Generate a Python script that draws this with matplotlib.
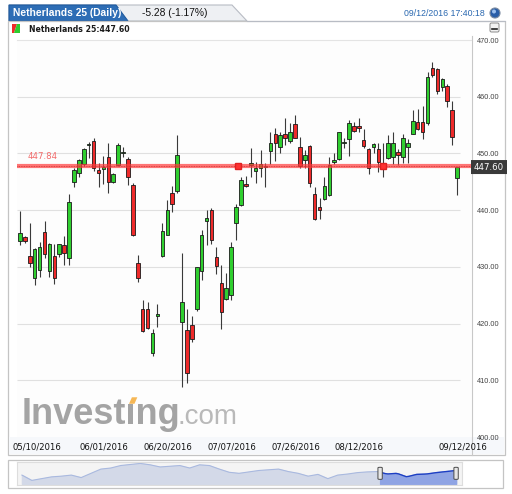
import matplotlib
matplotlib.use('Agg')
import numpy as np
import pandas as pd
import matplotlib.pyplot as plt
from matplotlib.patches import Polygon, Rectangle, FancyBboxPatch, Circle

# daily candles, Netherlands 25, 05/10/2016 .. 09/12/2016
opens = [434.6, 435.2, 431.9, 428.1, 429.5, 436.2, 429.3, 432.0, 432.2, 433.8,
         431.5, 445.0, 446.5, 448.1, 451.5, 452.2, 447.1, 447.3, 449.3, 445.0,
         447.9, 450.0, 449.1, 444.5, 430.6, 422.5, 422.5, 414.8, 421.4, 431.9,
         435.7, 443.1, 443.4, 420.3, 418.9, 419.8, 422.5, 429.3, 438.1, 440.0,
         431.8, 427.2, 424.4, 425.1, 437.7, 440.9, 444.6, 448.0, 446.9, 447.5,
         447.6, 450.4, 453.5, 451.1, 453.4, 452.2, 455.2, 451.1, 448.9, 451.3,
         442.9, 440.5, 441.9, 442.7, 448.5, 449.0, 451.8, 452.5, 454.9, 454.8,
         452.3, 450.8, 451.1, 450.8, 447.8, 449.2, 449.4, 450.3, 449.4, 451.2,
         453.5, 455.5, 455.6, 455.3, 465.0, 464.9, 461.8, 461.9, 457.6, 445.6]
highs = [439.8, 435.5, 437.7, 433.4, 434.4, 438.1, 434.2, 434.0, 434.1, 435.4,
         442.8, 447.5, 449.1, 450.9, 452.0, 452.8, 448.4, 449.5, 451.9, 446.5,
         451.9, 451.1, 449.3, 444.7, 432.1, 424.1, 423.8, 419.1, 423.5, 437.7,
         441.8, 444.2, 453.2, 432.4, 422.5, 421.3, 430.0, 436.5, 440.1, 440.3,
         433.5, 430.3, 428.9, 434.4, 441.1, 445.8, 446.0, 450.9, 448.5, 450.6,
         448.4, 453.7, 454.4, 453.8, 456.2, 455.3, 456.8, 452.9, 450.6, 451.5,
         444.0, 442.2, 445.8, 449.3, 450.1, 453.8, 452.8, 455.9, 455.5, 456.3,
         454.3, 450.9, 451.8, 451.8, 451.8, 453.2, 453.8, 450.8, 453.5, 452.6,
         457.6, 457.8, 458.4, 464.3, 466.2, 465.0, 463.3, 462.3, 459.2, 447.5]
lows = [433.8, 434.2, 430.0, 426.8, 428.2, 431.5, 428.2, 426.9, 431.8, 430.3,
        430.3, 444.0, 445.9, 447.8, 449.2, 446.9, 444.1, 444.6, 443.1, 444.8,
        447.7, 449.4, 444.4, 435.4, 427.4, 418.5, 419.1, 414.2, 419.4, 431.7,
        435.6, 439.7, 443.0, 408.8, 409.5, 416.8, 422.3, 427.7, 433.8, 434.1,
        428.7, 419.1, 424.1, 424.1, 434.8, 440.7, 444.0, 445.9, 444.8, 445.9,
        444.1, 448.2, 448.7, 450.0, 451.5, 451.8, 452.7, 447.4, 447.4, 444.0,
        438.2, 438.4, 441.8, 442.5, 448.2, 448.8, 451.0, 449.6, 453.7, 453.7,
        451.0, 446.3, 450.0, 446.8, 445.9, 449.1, 448.2, 448.0, 448.4, 448.4,
        453.4, 454.1, 452.6, 455.1, 463.5, 460.4, 461.0, 458.2, 451.5, 442.6]
closes = [436.0, 434.5, 430.6, 433.2, 433.5, 432.2, 434.1, 428.1, 434.0, 432.4,
          441.5, 447.0, 448.9, 450.7, 451.7, 447.4, 446.6, 447.5, 445.0, 446.3,
          451.5, 450.1, 445.9, 435.6, 428.0, 418.7, 419.3, 418.3, 421.6, 436.3,
          440.1, 441.1, 449.7, 423.8, 411.3, 417.2, 429.9, 435.6, 438.7, 434.8,
          430.2, 422.0, 426.2, 433.5, 440.6, 445.3, 444.3, 448.2, 447.4, 448.1,
          447.8, 451.9, 451.9, 453.2, 452.8, 453.8, 452.8, 447.7, 449.7, 444.8,
          438.4, 440.1, 444.2, 447.9, 448.9, 453.7, 452.0, 455.3, 453.9, 454.4,
          451.3, 447.4, 451.6, 448.5, 447.9, 451.9, 451.9, 449.7, 452.8, 451.9,
          455.7, 454.3, 453.7, 463.5, 463.9, 461.0, 463.1, 459.3, 452.88, 447.60]

dates = pd.bdate_range('2016-05-10', '2016-09-12')
tick_dates = ['05/10/2016', '06/01/2016', '06/20/2016', '07/07/2016',
              '07/26/2016', '08/12/2016', '09/12/2016']
price_ticks = [400, 410, 420, 430, 440, 450, 460, 470]
hline_level = 447.84
hline_marks = [44.4, 74.0]

# navigator (long history, relative levels)
nav_values = [25, 10, 15, 20, 22, 25, 18, 30, 42, 45, 52, 55, 58, 54, 48,
              50, 52, 45, 54, 52, 42, 33, 30, 34, 38, 40, 42, 35, 30, 22,
              27, 15, 25, 28, 32, 34, 35, 28, 30, 20, 27, 28, 32, 35, 38]
nav_sel = (36.3, 44)

W, H = 512, 494
fig = plt.figure(figsize=(W / 100, H / 100), dpi=100)
fig.patch.set_facecolor('white')

# pixel canvas for the chrome
bg = fig.add_axes([0, 0, 1, 1])
bg.set_xlim(0, W)
bg.set_ylim(H, 0)
bg.axis('off')

# tabs
bg.add_patch(Polygon([(9, 5), (232, 5), (247, 21), (9, 21)], closed=True,
                     fc='#eef0f3', ec='#b8bcc4', lw=0.8))
bg.add_patch(Polygon([(9, 5), (116, 5), (128, 21), (9, 21)], closed=True,
                     fc='#2d6db5', ec='#1f5a9e', lw=0.8))
bg.text(13, 13.5, 'Netherlands 25 (Daily)', color='white', fontsize=7.4,
        fontweight='bold', family='Liberation Sans', va='center')
bg.text(142, 13.5, '-5.28 (-1.17%)', color='#111111', fontsize=7.4,
        family='Liberation Sans', va='center')
bg.text(485, 14, '09/12/2016 17:40:18', color='#2a68b0', fontsize=6.3,
        family='Liberation Sans', va='center', ha='right')
bg.add_patch(Circle((495, 13), 5, fc='#2a5ea8', ec='#7a8aa0', lw=0.8))
bg.add_patch(Circle((494, 11.5), 2, fc='#9cc0ee', ec='none'))

# main panel
bg.add_patch(Rectangle((8, 21), 497, 434, fc='white', ec='#c4c4c4', lw=0.9))
bg.plot([247, 505], [21, 21], color='#b8bcc4', lw=0.8)
bg.add_patch(Polygon([(12, 24), (17, 24), (14, 33), (12, 33)], closed=True,
                     fc='#ee2b2b', ec='none'))
bg.add_patch(Polygon([(17, 24), (20, 24), (20, 33), (14, 33)], closed=True,
                     fc='#2ecc2e', ec='none'))
bg.text(29, 29, 'Netherlands 25:447.60', color='#1a1a1a', fontsize=5.6,
        fontweight='bold', family='DejaVu Sans', va='center')
bg.add_patch(FancyBboxPatch((490, 23), 9, 9, boxstyle='round,pad=0,rounding_size=1.5',
                            fc='#f2f2f2', ec='#8a8a8a', lw=0.7))
bg.plot([492, 497], [29.5, 29.5], color='#222222', lw=1.2)
bg.add_patch(Rectangle((9, 437), 495, 17, fc='#f6f8fb', ec='none'))
bg.plot([471.5, 471.5], [36, 455], color='#c8c8c8', lw=0.8)

# navigator panel
bg.add_patch(Rectangle((8, 460), 495, 28, fc='white', ec='#c4c4c4', lw=0.9))

ax = fig.add_axes([17 / W, 1 - 437 / H, (471 - 17) / W, (437 - 40) / H])
ax.set_facecolor('#fdfdfd')
x_left, x_right = -0.6, 91.85
ax.set_xlim(x_left, x_right)
ax.set_ylim(400, 470)
for s in ax.spines.values():
    s.set_visible(False)
ax.spines['top'].set_visible(True)
ax.spines['top'].set_color('#e4e4e4')

idx = np.arange(len(opens))
o = np.array(opens)
c = np.array(closes)
up = c >= o

ax.hlines(price_ticks[1:-1], x_left, 89.7, color='#e0e0e0', lw=0.8, zorder=1)

ax.vlines(idx, lows, highs, color='#3a3a3a', lw=0.8, zorder=3)
body_lo = np.minimum(o, c)
body_h = np.maximum(np.abs(c - o), 0.25)
ax.bar(idx, body_h, bottom=body_lo, width=0.72,
       color=np.where(up, '#2fcf2f', '#ee2a2a'),
       edgecolor='#1a1a1a', linewidth=0.6, zorder=4)

# user drawn line
ax.axhline(hline_level, color='#ff3a3a', alpha=0.7, lw=3.0, zorder=5)
ax.axhline(hline_level, color='#d03030', lw=0.6, ls=(0, (1, 1)), zorder=5)
ax.plot(hline_marks, [hline_level] * len(hline_marks), 's', color='#ff3030',
        ms=3.8, mec='#e02020', zorder=6)
ax.text(1.6, hline_level + 1.6, '%.2f' % hline_level, color='#f26a6a',
        fontsize=6.2, family='DejaVu Sans', va='center', zorder=6)

# price axis on the right
ax.yaxis.tick_right()
ax.set_yticks(price_ticks)
ax.set_yticklabels(['%.2f' % v for v in price_ticks], fontsize=5.3,
                   family='Liberation Sans', color='#444444')
ax.tick_params(axis='y', length=0, pad=4)
ax.set_xticks([])

# date labels under the plot
tick_pos = [list(dates.strftime('%m/%d/%Y')).index(d) for d in tick_dates]
for d, p in zip(tick_dates, tick_pos):
    if p == 0:
        ax.text(x_left - 1.0, 398.2, d, ha='left', va='center', fontsize=6.1,
                family='DejaVu Sans', color='#111111', clip_on=False)
    else:
        ax.text(p + 1.1, 398.2, d, ha='center', va='center', fontsize=6.1,
                family='DejaVu Sans', color='#111111', clip_on=False)

# last price tag
y_tag = 40 + (470 - closes[-1]) / 70 * 397
bg.add_patch(Polygon([(467, y_tag), (471, y_tag - 7), (507, y_tag - 7),
                      (507, y_tag + 7), (471, y_tag + 7)], closed=True,
                     fc='#3a3a3a', ec='none', zorder=10))
bg.text(489, y_tag, '%.2f' % closes[-1], color='white', fontsize=6.2,
        family='DejaVu Sans', ha='center', va='center', zorder=11)

# watermark, with the orange dot on the second i
wm_kw = dict(fontsize=26, fontweight='bold', family='Liberation Sans')
ax.text(22, 424, 'Investing', transform=bg.transData, color='#a4a4a4',
        zorder=0.5, **wm_kw)
ax.text(177, 424, '.com', transform=bg.transData, fontsize=20,
        family='Liberation Sans', color='#b9b9b9', zorder=0.5)
renderer = fig.canvas.get_renderer()
probe = fig.text(0, 0, 'Invest', **wm_kw)
ox = 22 + probe.get_window_extent(renderer).width
probe.remove()
em = 26 * 100 / 72
ax.add_patch(Rectangle((ox + 0.04 * em, 424 - 0.75 * em), 0.2 * em, 0.17 * em,
                       transform=bg.transData, fc='#fdfdfd', ec='none', zorder=0.55))
ax.add_patch(Polygon([(ox + 0.07 * em, 424 - 0.56 * em), (ox + 0.15 * em, 424 - 0.74 * em),
                      (ox + 0.3 * em, 424 - 0.74 * em), (ox + 0.22 * em, 424 - 0.56 * em)],
                     closed=True, transform=bg.transData, fc='#f6b755',
                     ec='none', zorder=0.6))

# navigator
nav = fig.add_axes([17 / W, 1 - 485 / H, (462 - 17) / W, 23 / H])
nav.set_facecolor('#f4f4f4')
nx = np.arange(len(nav_values))
nv = np.array(nav_values, dtype=float)
nav.fill_between(nx, 0, nv, color='#d3d9e8')
nav.plot(nx, nv, color='#a9b9df', lw=0.8)
sel_x = np.linspace(nav_sel[0], nav_sel[1], 30)
sel_v = np.interp(sel_x, nx, nv)
nav.fill_between(sel_x, 0, sel_v, color='#8fa4e4')
nav.plot(sel_x, sel_v, color='#1d3fc4', lw=1.0)
nav.set_xlim(-0.5, 44.6)
nav.set_ylim(-3, 62)
nav.set_xticks([])
nav.set_yticks([])
for s in nav.spines.values():
    s.set_color('#dddddd')
for hx in nav_sel:
    nav.add_patch(FancyBboxPatch((hx - 0.22, 13), 0.44, 34,
                                 boxstyle='round,pad=0,rounding_size=0.15',
                                 fc='#e6e6e6', ec='#4a4a4a', lw=0.7, zorder=5,
                                 mutation_aspect=12))

fig.savefig('out.png', dpi=100, facecolor='white')
